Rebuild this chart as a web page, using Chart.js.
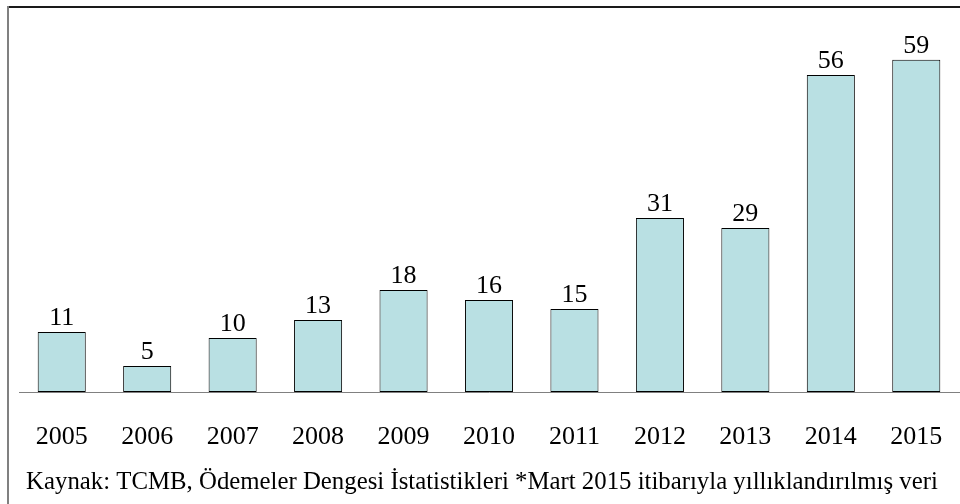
<!DOCTYPE html>
<html>
<head>
<meta charset="utf-8">
<script src="https://cdn.jsdelivr.net/npm/chart.js@4/dist/chart.umd.min.js"></script>
<style>
html,body{margin:0;padding:0;background:#fff;}
#wrap{width:960px;height:504px;position:relative;}
</style>
</head>
<body>
<div id="wrap"><canvas id="c" width="960" height="504"></canvas></div>
<script>
const categories = ['2005','2006','2007','2008','2009','2010','2011','2012','2013','2014','2015'];
const values = [10.66, 4.62, 9.59, 12.79, 18.12, 16.34, 14.74, 30.9, 29.13, 56.3, 58.97];
const caption = 'Kaynak: TCMB, Ödemeler Dengesi İstatistikleri *Mart 2015 itibarıyla yıllıklandırılmış veri';

const FONT = "'Liberation Serif', 'Times New Roman', serif";
const TICK_PAD = 30;
const TICK_SIZE = 26;

const framePlugin = {
  id: 'frame',
  beforeDraw(chart) {
    const ctx = chart.ctx;
    ctx.save();
    ctx.fillStyle = '#fff';
    ctx.fillRect(0, 0, chart.width, chart.height);
    ctx.lineWidth = 2;
    ctx.strokeStyle = '#1a1a1a';
    ctx.beginPath();
    ctx.moveTo(7, 7);
    ctx.lineTo(chart.width, 7);
    ctx.stroke();
    ctx.strokeStyle = '#808080';
    ctx.beginPath();
    ctx.moveTo(8, 6);
    ctx.lineTo(8, chart.height);
    ctx.stroke();
    ctx.restore();
  }
};

const labelPlugin = {
  id: 'valueLabels',
  afterDatasetsDraw(chart) {
    const ctx = chart.ctx;
    const meta = chart.getDatasetMeta(0);
    ctx.save();
    ctx.font = '26px ' + FONT;
    ctx.fillStyle = '#000';
    ctx.textAlign = 'center';
    ctx.textBaseline = 'alphabetic';
    meta.data.forEach((bar, i) => {
      ctx.fillText(String(Math.round(chart.data.datasets[0].data[i])), bar.x, bar.y - 7);
    });
    ctx.restore();
  }
};

new Chart(document.getElementById('c'), {
  type: 'bar',
  data: {
    labels: categories,
    datasets: [{
      data: values,
      backgroundColor: '#b9e0e3',
      borderColor: '#000',
      borderWidth: 1,
      borderSkipped: false,
      barPercentage: 0.5625,
      categoryPercentage: 1.0
    }]
  },
  options: {
    responsive: false,
    animation: false,
    events: [],
    layout: { padding: { left: 5, right: 1, top: 9, bottom: 4 } },
    plugins: {
      legend: { display: false },
      tooltip: { enabled: false },
      title: {
        display: true,
        position: 'bottom',
        align: 'center',
        text: caption,
        color: '#000',
        font: { family: FONT, size: 24.8, weight: 'normal', lineHeight: 1.2 },
        padding: { top: 14, bottom: 3 }
      }
    },
    scales: {
      x: {
        grid: { display: false, drawTicks: false },
        border: { display: true, color: '#808080', width: 1 },
        ticks: { color: '#000', padding: TICK_PAD, font: { family: FONT, size: TICK_SIZE, lineHeight: 1.2 } },
        afterFit(scale) {
          scale.paddingLeft = 19;
          scale.paddingRight = 0;
          scale.height = TICK_PAD + TICK_SIZE * 1.2;
        }
      },
      y: {
        display: false,
        min: 0,
        max: 68
      }
    }
  },
  plugins: [framePlugin, labelPlugin]
});
</script>
</body>
</html>
